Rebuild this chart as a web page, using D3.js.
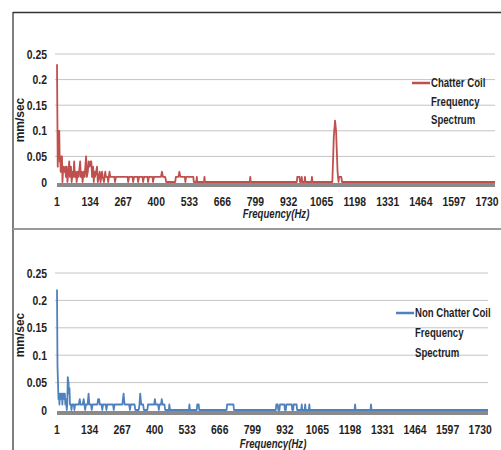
<!DOCTYPE html>
<html>
<head>
<meta charset="utf-8">
<script src="https://cdn.jsdelivr.net/npm/d3@7"></script>
<style>
  body { margin: 0; background: #fff; }
  svg text { font-family: "Liberation Sans", Arial, sans-serif; font-weight: bold; fill: #1f1f1f; }
</style>
</head>
<body>
<script>
// Tick labels
const freqTicks = [1, 134, 267, 400, 533, 666, 799, 932, 1065, 1198, 1331, 1464, 1597, 1730];
const ampTicks = [0, 0.05, 0.1, 0.15, 0.2, 0.25];
const freqMax = 1762;

// Series names
const chatterName = ["Chatter Coil", "Frequency", "Spectrum"];
const nonChatterName = ["Non Chatter Coil", "Frequency", "Spectrum"];

// Chatter coil spectrum: [frequency Hz, mm/sec]
const chatterSpectrum = [
  [1,0.23],[4,0.03],[6,0.10],[10,0.10],[12,0.04],[14,0.05],[16,0.02],[18,0.05],[21,0.05],[23,0.0],
  [26,0.03],[30,0.02],[34,0.03],[37,0.01],[40,0.03],[43,0.0],[47,0.02],[50,0.04],[53,0.01],[57,0.03],
  [60,0.0],[64,0.02],[67,0.01],[70,0.04],[73,0.01],[77,0.02],[80,0.0],[84,0.02],[88,0.01],[94,0.04],
  [97,0.01],[101,0.02],[104,0.0],[108,0.02],[112,0.01],[118,0.05],[121,0.01],[125,0.02],[128,0.04],
  [132,0.03],[136,0.04],[139,0.04],[142,0.01],[146,0.03],[149,0.0],[151,0.02],[154,0.01],[158,0.02],
  [162,0.03],[165,0.0],[169,0.01],[173,0.02],[176,0.0],[182,0.02],[185,0.01],[190,0.0],[195,0.02],
  [198,0.01],[204,0.01],[207,0.0],[212,0.02],[215,0.01],[232,0.01],[234,0.0],[238,0.01],[285,0.01],
  [287,0.0],[291,0.01],[305,0.01],[307,0.0],[311,0.01],[325,0.01],[327,0.0],[331,0.01],[345,0.01],
  [347,0.0],[351,0.01],[365,0.01],[367,0.0],[371,0.01],[385,0.01],[387,0.0],[391,0.01],[419,0.01],
  [423,0.02],[427,0.01],[436,0.01],[440,0.0],[476,0.0],[479,0.01],[489,0.01],[493,0.02],[497,0.01],
  [515,0.01],[517,0.0],[520,0.01],[549,0.01],[551,0.0],[561,0.0],[563,0.01],[565,0.0],[592,0.0],
  [594,0.01],[596,0.0],[776,0.0],[778,0.01],[780,0.0],[965,0.0],[967,0.01],[976,0.01],[978,0.0],
  [983,0.0],[985,0.01],[987,0.0],[996,0.0],[998,0.01],[1000,0.0],[1024,0.0],[1026,0.01],[1028,0.0],
  [1108,0.0],[1114,0.09],[1119,0.12],[1123,0.10],[1129,0.02],[1133,0.0],[1135,0.01],[1144,0.01],
  [1147,0.0],[1762,0.0]
];

// Non chatter coil spectrum: [frequency Hz, mm/sec]
const nonChatterSpectrum = [
  [1,0.22],[3,0.08],[5,0.05],[7,0.02],[9,0.03],[11,0.01],[13,0.03],[15,0.02],[17,0.03],[19,0.02],
  [21,0.03],[23,0.01],[25,0.03],[27,0.02],[29,0.03],[31,0.02],[33,0.03],[35,0.01],[37,0.02],[39,0.01],
  [41,0.0],[43,0.01],[45,0.06],[48,0.05],[50,0.03],[52,0.04],[54,0.01],[58,0.01],[60,0.0],[63,0.01],
  [70,0.01],[72,0.0],[75,0.01],[90,0.01],[94,0.02],[97,0.01],[106,0.01],[110,0.02],[113,0.01],
  [116,0.0],[119,0.01],[126,0.01],[130,0.03],[133,0.01],[140,0.01],[143,0.0],[146,0.01],[166,0.01],
  [169,0.02],[173,0.02],[176,0.01],[183,0.01],[186,0.0],[189,0.01],[200,0.01],[203,0.0],[206,0.01],
  [230,0.01],[233,0.0],[236,0.01],[268,0.01],[273,0.03],[277,0.01],[296,0.01],[299,0.0],[302,0.01],
  [318,0.01],[321,0.0],[335,0.0],[338,0.01],[341,0.03],[345,0.01],[353,0.01],[356,0.0],[370,0.0],
  [373,0.01],[398,0.01],[401,0.02],[404,0.01],[414,0.01],[417,0.0],[420,0.01],[426,0.01],[429,0.02],
  [432,0.01],[440,0.01],[443,0.0],[458,0.0],[460,0.01],[463,0.0],[540,0.0],[542,0.01],[544,0.0],
  [572,0.0],[574,0.01],[580,0.01],[582,0.0],[694,0.0],[696,0.01],[722,0.01],[724,0.0],[895,0.0],
  [897,0.01],[903,0.01],[905,0.0],[910,0.0],[912,0.01],[930,0.01],[932,0.0],[936,0.0],[938,0.01],
  [960,0.01],[962,0.0],[966,0.0],[968,0.01],[980,0.01],[982,0.0],[999,0.0],[1001,0.01],[1003,0.0],
  [1013,0.0],[1015,0.01],[1017,0.0],[1030,0.0],[1032,0.01],[1034,0.0],[1217,0.0],[1219,0.01],
  [1221,0.0],[1282,0.0],[1284,0.01],[1286,0.0],[1762,0.0]
];

const width = 501, height = 450;

const svg = d3.select("body").append("svg")
    .attr("width", width)
    .attr("height", height);

// Frames around the two chart panels
svg.append("line").attr("x1", 13).attr("x2", 13).attr("y1", 12).attr("y2", height)
    .style("stroke", "#555").style("stroke-width", 1.5);
svg.append("line").attr("x1", 13).attr("x2", width).attr("y1", 12.5).attr("y2", 12.5)
    .style("stroke", "#333").style("stroke-width", 1.5);
svg.append("line").attr("x1", 13).attr("x2", width).attr("y1", 229).attr("y2", 229)
    .style("stroke", "#9a9a9a").style("stroke-width", 2);

// squeeze Liberation Sans so it reads like a narrow face
const at = (x, y, sx) => `translate(${x},${y}) scale(${sx},1)`;

function drawPanel(p) {
    const x = d3.scaleLinear().domain([1, freqMax]).range([p.left, p.right]);
    const y = d3.scaleLinear().domain([0, 0.25]).range([p.bottom, p.top]);
    const g = svg.append("g");

    // Gridlines
    g.selectAll(".grid")
        .data(ampTicks.slice(1))
        .enter().append("line")
        .attr("x1", p.left - 2).attr("x2", p.right)
        .attr("y1", d => y(d)).attr("y2", d => y(d))
        .style("stroke", "#c4c4c4").style("stroke-width", 1);

    // Grey base band
    g.append("rect")
        .attr("x", p.left).attr("y", y(0) + 1)
        .attr("width", p.right - p.left).attr("height", 4)
        .style("fill", "#8a8a8a");

    // Y axis labels
    g.selectAll(".ylab")
        .data(ampTicks)
        .enter().append("text")
        .attr("transform", d => at(47, y(d), 0.8))
        .attr("dy", "0.35em")
        .attr("text-anchor", "end")
        .style("font-size", "13px")
        .text(d => String(+d.toFixed(2)));

    // X axis labels
    g.selectAll(".xlab")
        .data(freqTicks)
        .enter().append("text")
        .attr("transform", d => at(x(d), p.bottom + 24, 0.8))
        .attr("text-anchor", "middle")
        .style("font-size", "13px")
        .text(d => d);

    // Axis titles
    g.append("text")
        .attr("transform", `translate(24,${p.yTitle}) rotate(-90) scale(0.92,1)`)
        .attr("text-anchor", "middle")
        .style("font-size", "13px")
        .text("mm/sec");
    g.append("text")
        .attr("transform", at(p.xTitleX, p.xTitleY, 0.8))
        .attr("text-anchor", "middle")
        .style("font-size", "12px")
        .style("font-style", "italic")
        .text("Frequency(Hz)");

    // Spectrum line
    const line = d3.line().x(d => x(d[0])).y(d => y(d[1]));
    g.append("path")
        .datum(p.series)
        .attr("d", line)
        .style("fill", "none")
        .style("stroke", p.color)
        .style("stroke-width", 1.8)
        .style("stroke-linejoin", "round");

    // Legend
    g.append("line")
        .attr("x1", p.legendX).attr("x2", p.legendX + 18)
        .attr("y1", p.legendY).attr("y2", p.legendY)
        .style("stroke", p.color).style("stroke-width", 2.5);
    g.selectAll(".leg")
        .data(p.name)
        .enter().append("text")
        .attr("transform", (d, i) => at(p.legendX + 19, p.legendY + i * p.legendStep, 0.8))
        .attr("dy", "0.35em")
        .style("font-size", "12px")
        .text(d => d);
}

drawPanel({
    series: chatterSpectrum, color: "#c0504d", name: chatterName,
    left: 57, right: 495, top: 54, bottom: 182,
    yTitle: 120, xTitleX: 276, xTitleY: 218,
    legendX: 412, legendY: 83, legendStep: 18.5
});

drawPanel({
    series: nonChatterSpectrum, color: "#4f81bd", name: nonChatterName,
    left: 57, right: 488, top: 273, bottom: 410,
    yTitle: 335, xTitleX: 273, xTitleY: 448,
    legendX: 396, legendY: 313, legendStep: 19.7
});
</script>
</body>
</html>
